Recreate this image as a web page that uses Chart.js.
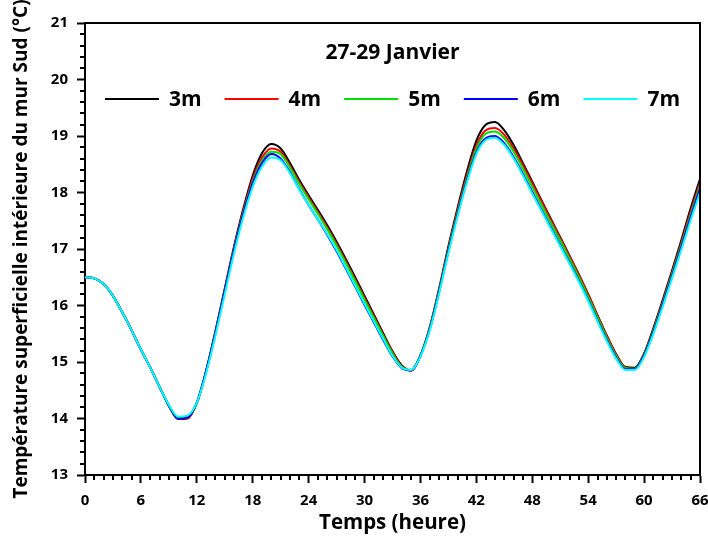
<!DOCTYPE html>
<html lang="fr">
<head>
    <meta charset="UTF-8">
    <title>Température superficielle intérieure du mur Sud</title>
    <script src="https://cdn.jsdelivr.net/npm/chart.js"></script>
    <style>
        body {
            margin: 0;
            background: #fff;
        }
        #wrap {
            width: 708px;
            height: 538px;
        }
    </style>
</head>
<body>
    <div id="wrap"><canvas id="tempChart"></canvas></div>

    <script>
        // Temps (heure), un point par heure
        const hours = Array.from({length: 67}, (_, i) => i);

        const t3m = [16.50, 16.48, 16.38, 16.17, 15.88, 15.56, 15.22, 14.90, 14.56, 14.22,
                     13.99, 14.00, 14.28, 14.85, 15.55, 16.30, 17.05, 17.72, 18.30, 18.70,
                     18.86, 18.78, 18.52, 18.22, 17.95, 17.69, 17.42, 17.13, 16.82, 16.50,
                     16.17, 15.84, 15.51, 15.19, 14.94, 14.85, 15.12, 15.62, 16.30, 17.05,
                     17.74, 18.38, 18.92, 19.20, 19.25, 19.10, 18.84, 18.52, 18.19, 17.86,
                     17.53, 17.21, 16.88, 16.55, 16.20, 15.83, 15.47, 15.14, 14.91, 14.90,
                     15.15, 15.60, 16.10, 16.62, 17.16, 17.72, 18.24];
        const t4m = [16.50, 16.48, 16.38, 16.17, 15.88, 15.56, 15.22, 14.90, 14.56, 14.23,
                     14.00, 14.01, 14.27, 14.83, 15.53, 16.28, 17.02, 17.68, 18.24, 18.62,
                     18.78, 18.72, 18.47, 18.18, 17.91, 17.65, 17.38, 17.09, 16.78, 16.46,
                     16.13, 15.81, 15.48, 15.17, 14.92, 14.85, 15.11, 15.60, 16.27, 17.01,
                     17.69, 18.31, 18.83, 19.10, 19.14, 19.02, 18.78, 18.48, 18.16, 17.84,
                     17.51, 17.19, 16.87, 16.54, 16.19, 15.82, 15.46, 15.13, 14.90, 14.88,
                     15.13, 15.57, 16.07, 16.58, 17.11, 17.66, 18.17];
        const t5m = [16.50, 16.48, 16.38, 16.17, 15.88, 15.56, 15.22, 14.90, 14.56, 14.23,
                     14.01, 14.03, 14.27, 14.82, 15.51, 16.25, 16.99, 17.64, 18.19, 18.56,
                     18.72, 18.68, 18.44, 18.15, 17.88, 17.62, 17.35, 17.06, 16.75, 16.43,
                     16.10, 15.78, 15.46, 15.15, 14.91, 14.86, 15.12, 15.59, 16.25, 16.98,
                     17.65, 18.26, 18.77, 19.04, 19.08, 18.96, 18.72, 18.42, 18.10, 17.78,
                     17.46, 17.15, 16.83, 16.50, 16.15, 15.79, 15.43, 15.11, 14.89, 14.88,
                     15.12, 15.55, 16.04, 16.55, 17.07, 17.61, 18.12];
        const t6m = [16.50, 16.48, 16.38, 16.17, 15.88, 15.56, 15.22, 14.90, 14.56, 14.23,
                     14.00, 14.02, 14.28, 14.84, 15.52, 16.26, 16.99, 17.63, 18.16, 18.52,
                     18.68, 18.60, 18.36, 18.06, 17.78, 17.52, 17.25, 16.96, 16.65, 16.33,
                     16.01, 15.70, 15.39, 15.10, 14.89, 14.85, 15.11, 15.58, 16.24, 16.96,
                     17.62, 18.22, 18.71, 18.96, 19.00, 18.87, 18.63, 18.33, 18.01, 17.69,
                     17.38, 17.07, 16.76, 16.44, 16.10, 15.74, 15.39, 15.08, 14.87, 14.87,
                     15.11, 15.53, 16.02, 16.52, 17.04, 17.57, 18.07];
        const t7m = [16.50, 16.48, 16.38, 16.17, 15.88, 15.56, 15.22, 14.90, 14.56, 14.24,
                     14.03, 14.05, 14.28, 14.80, 15.47, 16.20, 16.93, 17.57, 18.10, 18.46,
                     18.62, 18.57, 18.34, 18.05, 17.78, 17.52, 17.26, 16.98, 16.67, 16.35,
                     16.03, 15.72, 15.41, 15.11, 14.90, 14.86, 15.10, 15.56, 16.21, 16.93,
                     17.59, 18.19, 18.68, 18.93, 18.97, 18.84, 18.60, 18.30, 17.98, 17.67,
                     17.36, 17.05, 16.74, 16.42, 16.08, 15.72, 15.37, 15.06, 14.86, 14.86,
                     15.09, 15.50, 15.98, 16.48, 16.99, 17.51, 18.00];

        const names = ["3m", "4m", "5m", "6m", "7m"];
        const series = [t3m, t4m, t5m, t6m, t7m];
        const colors = ["#000000", "#ff0000", "#00e000", "#0000ff", "#00ffff"];
        const period = "27-29 Janvier";

        const xMin = 0, xMax = 66, xStep = 6;
        const yMin = 13, yMax = 21, yStep = 1, yMinor = 0.2;

        const FONT = "'Open Sans', sans-serif";
        Chart.defaults.font.family = FONT;
        Chart.defaults.font.weight = "bold";
        Chart.defaults.color = "#000";

        // cadre haut/droite + petites graduations
        const frame = {
            id: "frame",
            afterDraw(chart) {
                const {ctx, chartArea: a, scales: {x, y}} = chart;
                ctx.save();
                ctx.strokeStyle = "#000";
                ctx.lineWidth = 2;
                ctx.beginPath();
                ctx.moveTo(a.left, a.top);
                ctx.lineTo(a.right, a.top);
                ctx.lineTo(a.right, a.bottom);
                for (let v = xMin; v <= xMax; v++) {
                    if (v % xStep === 0) continue;
                    const px = Math.round(x.getPixelForValue(v));
                    ctx.moveTo(px, a.bottom);
                    ctx.lineTo(px, a.bottom + 5);
                }
                const n = Math.round((yMax - yMin) / yMinor);
                for (let i = 0; i <= n; i++) {
                    if (i % 5 === 0) continue;
                    const py = Math.round(y.getPixelForValue(yMin + i * yMinor));
                    ctx.moveTo(a.left, py);
                    ctx.lineTo(a.left - 5, py);
                }
                ctx.stroke();
                ctx.restore();
            }
        };

        // titre + légende à l'intérieur du graphe
        const insideLegend = {
            id: "insideLegend",
            afterDraw(chart) {
                const {ctx, chartArea: a} = chart;
                const cx = (a.left + a.right) / 2;
                ctx.save();
                ctx.fillStyle = "#000";
                ctx.textBaseline = "middle";
                ctx.textAlign = "center";
                ctx.font = "bold 21px " + FONT;
                ctx.fillText(period, cx, a.top + 30);

                const lineLen = 54, gap = 10, spacing = 23;
                const ds = chart.data.datasets;
                const widths = ds.map(d => lineLen + gap + ctx.measureText(d.label).width);
                const total = widths.reduce((s, w) => s + w, 0) + spacing * (ds.length - 1);
                let x = cx - total / 2;
                const y = a.top + 76;
                ctx.textAlign = "left";
                ctx.lineWidth = 2;
                ds.forEach((d, i) => {
                    ctx.strokeStyle = d.borderColor;
                    ctx.beginPath();
                    ctx.moveTo(x, y);
                    ctx.lineTo(x + lineLen, y);
                    ctx.stroke();
                    ctx.fillText(d.label, x + lineLen + gap, y + 1);
                    x += widths[i] + spacing;
                });
                ctx.restore();
            }
        };

        const datasets = names.map((name, i) => ({
            label: name,
            data: series[i].map((v, k) => ({x: hours[k], y: v})),
            borderColor: colors[i],
            backgroundColor: colors[i],
            borderWidth: 2,
            pointRadius: 0,
            cubicInterpolationMode: "monotone",
            order: names.length - i
        }));

        new Chart(document.getElementById("tempChart"), {
            type: "line",
            data: {datasets},
            options: {
                responsive: true,
                maintainAspectRatio: false,
                animation: false,
                layout: {padding: {left: 0, top: 23, right: 0, bottom: 0}},
                plugins: {
                    tooltip: {enabled: false},
                    legend: {display: false}
                },
                scales: {
                    x: {
                        type: "linear",
                        min: xMin,
                        max: xMax,
                        afterFit: s => { s.height = 63; s.paddingRight = 8; },
                        ticks: {stepSize: xStep, padding: 9, font: {size: 15, weight: "bold"}, color: "#000"},
                        grid: {drawOnChartArea: false, tickLength: 8, tickColor: "#000", tickWidth: 2},
                        border: {color: "#000", width: 2},
                        title: {
                            display: true,
                            text: "Temps (heure)",
                            color: "#000",
                            font: {size: 20.5, weight: "bold"},
                            padding: {top: 0, bottom: 3}
                        }
                    },
                    y: {
                        min: yMin,
                        max: yMax,
                        afterFit: s => { s.width = 85; },
                        ticks: {stepSize: yStep, padding: 9, font: {size: 15, weight: "bold"}, color: "#000"},
                        grid: {drawOnChartArea: false, tickLength: 8, tickColor: "#000", tickWidth: 2},
                        border: {color: "#000", width: 2},
                        title: {
                            display: true,
                            text: "Température superficielle intérieure du mur Sud (°C)",
                            color: "#000",
                            font: {size: 19, weight: "bold"},
                            padding: {top: 10, bottom: 0}
                        }
                    }
                }
            },
            plugins: [frame, insideLegend]
        });
    </script>
</body>
</html>
